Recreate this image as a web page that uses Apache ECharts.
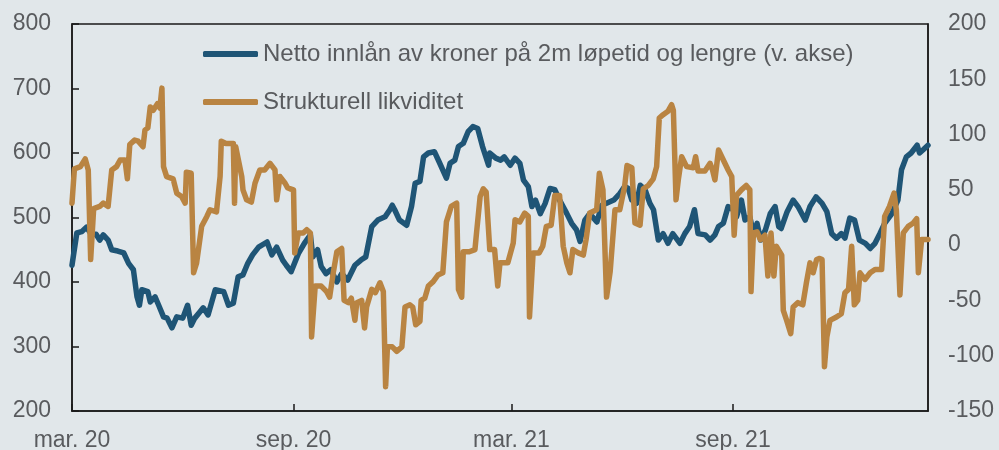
<!DOCTYPE html>
<html>
<head>
<meta charset="utf-8">
<script src="https://cdn.jsdelivr.net/npm/echarts@6.0.0/dist/echarts.min.js"></script>
<style>
  html, body { margin: 0; padding: 0; background: #e1e7ea; }
  #chart { width: 999px; height: 450px; }
</style>
</head>
<body>
<div id="chart"></div>
<script>
// x = days after 1 Mar 2020
const startDate = Date.UTC(2020, 2, 1);
const endDay = 711;
const tickDates = [Date.UTC(2020, 2, 1), Date.UTC(2020, 8, 1), Date.UTC(2021, 2, 1), Date.UTC(2021, 8, 1)];
const monthNames = ['jan.', 'feb.', 'mar.', 'apr.', 'mai', 'jun.', 'jul.', 'aug.', 'sep.', 'okt.', 'nov.', 'des.'];
const seriesNames = ['Netto innlån av kroner på 2m løpetid og lengre (v. akse)', 'Strukturell likviditet'];

// Netto innlån, left axis
const nettoInnlan = [
    [0, 426], [4, 476], [8, 478], [12, 485], [16, 474], [20, 474], [23, 465], [26, 473], [30, 465], [33, 450],
    [38, 448], [43, 445], [47, 429], [51, 419], [54, 377], [56, 364], [58, 388], [63, 385], [65, 369], [69, 377],
    [72, 364], [76, 346], [79, 344], [83, 329], [87, 346], [92, 344], [96, 364], [99, 333], [102, 344], [106, 353],
    [109, 360], [113, 349], [119, 388], [126, 385], [130, 364], [134, 367], [138, 408], [142, 411], [146, 429], [150, 442],
    [155, 454], [162, 462], [166, 442], [170, 454], [175, 434], [178, 426], [182, 416], [188, 444], [193, 460], [198, 473],
    [200, 439], [204, 450], [207, 424], [211, 413], [215, 419], [220, 400], [224, 413], [229, 403], [235, 426], [240, 434],
    [244, 439], [249, 486], [254, 496], [260, 501], [264, 512], [266, 519], [268, 512], [272, 496], [278, 488], [282, 517],
    [285, 553], [289, 556], [292, 594], [296, 600], [301, 602], [305, 586], [311, 561], [314, 584], [318, 589], [321, 610],
    [325, 615], [329, 633], [333, 641], [337, 638], [341, 610], [346, 581], [347, 600], [352, 592], [356, 589], [359, 594],
    [364, 581], [368, 592], [372, 584], [375, 558], [379, 548], [382, 517], [385, 527], [389, 506], [393, 522], [397, 545],
    [401, 543], [405, 527], [411, 506], [415, 491], [419, 481], [422, 463], [426, 496], [430, 506], [436, 493], [440, 519],
    [444, 522], [450, 527], [455, 537], [459, 548], [462, 545], [465, 527], [469, 522], [472, 550], [476, 543], [480, 522],
    [483, 512], [487, 465], [491, 475], [495, 460], [499, 475], [505, 460], [509, 475], [513, 486], [517, 512], [520, 475],
    [526, 473], [530, 465], [534, 473], [537, 486], [541, 491], [545, 517], [549, 512], [552, 501], [556, 527], [559, 496],
    [563, 501], [566, 475], [569, 491], [572, 465], [576, 481], [580, 506], [584, 517], [587, 486], [589, 483], [594, 509],
    [599, 527], [603, 517], [609, 496], [613, 517], [618, 532], [623, 522], [627, 509], [631, 475], [635, 468], [639, 475],
    [642, 468], [646, 499], [650, 496], [654, 465], [659, 460], [663, 452], [667, 460], [671, 475], [675, 491], [681, 506],
    [686, 527], [689, 574], [693, 594], [697, 600], [702, 612], [704, 600], [707, 605], [711, 612]
];

// Strukturell likviditet, right axis
const strukturellLikviditet = [
    [0, 38], [2, 69], [7, 71], [11, 78], [13.5, 68], [15.5, -13], [18, 33], [23, 35], [26, 38], [30, 35],
    [33, 68], [37, 71], [40, 77], [44, 77], [46, 60], [48, 91], [52, 95], [55, 94], [59, 89], [60.6, 104],
    [63, 106], [65, 125], [67.5, 122], [71, 128], [73, 124], [74.7, 142], [76, 71], [78.6, 62], [84, 60], [87, 47],
    [91, 44], [94, 38], [95, 66], [99, 65], [101, -25], [103.5, -16], [107.7, 17], [112, 26], [114.6, 32], [120, 30],
    [123, 62], [124, 94], [128, 92], [134, 92], [135, 38], [136, 89], [141, 62], [142, 50], [145, 41], [149, 39],
    [152, 56], [156, 68], [160, 68], [164.5, 74], [168.6, 68], [170, 41], [172.8, 62], [177, 56], [179, 52], [181, 51],
    [184, 50], [185, -7], [188, 11], [192, 11], [195, 14], [198, 11], [199, -83], [202, -37], [207, -37], [211.5, -42],
    [214, -47], [217, -25], [220, -6], [224, -3], [226, -50], [229.5, -52], [232, -48], [235, -68], [236.5, -52], [240.6, -50],
    [243, -75], [244.7, -56], [249, -40], [252, -43], [255.8, -34], [258.6, -42], [260.5, -128], [262, -92], [266, -92], [269.7, -96],
    [274, -92], [276.6, -56], [280.7, -54], [283, -56], [285.5, -72], [289, -69], [290, -50], [293, -48], [296, -37], [300, -33],
    [304, -27], [308, -25], [311, 21], [315, 35], [319.5, 38], [321, -40], [323.7, -47], [325, -6], [330, -6], [334.7, -4],
    [336, 11], [339, 44], [341.6, 51], [344, 48], [347, -4], [351, -4], [353.6, -37], [355.5, -16], [362, -16], [366.5, 2],
    [368, 23], [372, 21], [376, 29], [379, 26], [380, -65], [383, -7], [388, -7], [391, -1], [394, 17], [398, 18],
    [401, 45], [405, 45], [408, -1], [411, -16], [413.6, -25], [416, -4], [420.5, -7], [424.7, -9], [427, 5], [430, 29],
    [435.8, 32], [438, 65], [441, 50], [444, -47], [447, -24], [451, 32], [455, 32], [459, 53], [461, 72], [465, 70],
    [467.6, 20], [471.8, 18], [474.5, 51], [478.7, 54], [482.8, 60], [485.6, 71], [487.8, 115], [491, 118], [495, 121], [498, 127],
    [499.5, 122], [501.7, 41], [503.6, 59], [506.4, 80], [510.5, 71], [516, 70], [518, 80], [520, 67], [525.7, 67], [530, 74],
    [532, 68], [534, 59], [537, 86], [541, 77], [545, 68], [548, 62], [550, 9], [552, 45], [556, 50], [560, 54],
    [563, 50], [564, -42], [566, 11], [569, 12], [571.8, 5], [575.6, 9], [578, -28], [580.6, 11], [583, -28], [585, -1],
    [589.5, -9], [590.8, -59], [593.6, -68], [597, -80], [599, -56], [603, -52], [607, -54], [610, -34], [613, -16], [615.6, -25],
    [618.5, -13], [621, -12], [623, -13], [625, -110], [627, -83], [629.6, -68], [635, -65], [639, -62], [642, -43], [645, -40],
    [647.6, -1], [649.8, -54], [652.6, -50], [654.5, -25], [658.6, -31], [663, -25], [667, -22], [672.5, -22], [675, 26], [679, 35],
    [682.8, 47], [684.7, 32], [687.7, -45], [690.5, 11], [694.6, 17], [698.8, 20], [701.6, 24], [703, -25], [705.7, 5], [711, 5]
];

const dayMs = 24 * 3600 * 1000;
let toTime = (rows) => rows.map(r => [startDate + r[0] * dayMs, r[1]]);

const textColor = '#595b5e';
const axisColor = '#1a1a1a';
const font = 'Liberation Sans';

let getOption = () => {
    return {
        backgroundColor: '#e1e7ea',
        animation: false,
        textStyle: {fontFamily: font},
        grid: {
            left: 72, right: 71, top: 24, bottom: 39,
            outerBoundsMode: 'none',
            show: true, borderColor: axisColor, borderWidth: 1.5
        },
        legend: {
            left: 198,
            top: 37,
            orient: 'vertical',
            itemWidth: 55,
            itemHeight: 6,
            itemGap: 24,
            icon: 'roundRect',
            textStyle: {color: textColor, fontSize: 24, fontFamily: font},
            data: seriesNames
        },
        xAxis: {
            // linear axis in ms, labels only at mar./sep.
            type: 'value',
            min: startDate,
            max: startDate + endDay * dayMs,
            axisLine: {onZero: false, lineStyle: {color: axisColor, width: 1.5}},
            axisTick: {inside: true, length: 7, lineStyle: {color: axisColor, width: 1.5}, customValues: tickDates},
            splitLine: {show: false},
            axisLabel: {
                customValues: tickDates,
                color: textColor,
                fontSize: 23,
                margin: 18,
                formatter: (val) => {
                    let d = new Date(val);
                    return monthNames[d.getUTCMonth()] + ' ' + String(d.getUTCFullYear()).slice(2);
                }
            }
        },
        yAxis: [
            {
                type: 'value',
                min: 200, max: 800, interval: 100,
                axisLine: {show: true, onZero: false, lineStyle: {color: axisColor, width: 1.5}},
                axisTick: {show: true, inside: true, length: 7, lineStyle: {color: axisColor, width: 1.5}},
                splitLine: {show: false},
                axisLabel: {color: textColor, fontSize: 23, margin: 21}
            },
            {
                type: 'value',
                min: -150, max: 200, interval: 50,
                axisLine: {show: true, onZero: false, lineStyle: {color: axisColor, width: 1.5}},
                axisTick: {show: false},
                splitLine: {show: false},
                axisLabel: {color: textColor, fontSize: 23, margin: 20}
            }
        ],
        series: [
            {
                name: seriesNames[0],
                type: 'line',
                yAxisIndex: 0,
                showSymbol: false,
                color: '#1f5576',
                lineStyle: {width: 5.5, cap: 'round', join: 'round'},
                data: toTime(nettoInnlan)
            },
            {
                name: seriesNames[1],
                type: 'line',
                yAxisIndex: 1,
                showSymbol: false,
                color: '#b98442',
                lineStyle: {width: 5.5, cap: 'round', join: 'round'},
                data: toTime(strukturellLikviditet)
            }
        ]
    };
};

let chart = echarts.init(document.getElementById('chart'), null, {renderer: 'canvas'});
chart.setOption(getOption());
</script>
</body>
</html>
